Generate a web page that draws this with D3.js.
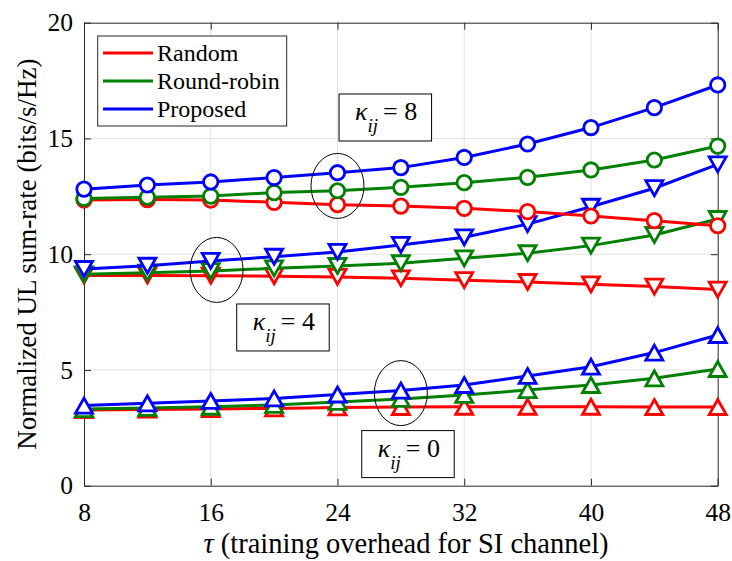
<!DOCTYPE html>
<html>
<head>
<meta charset="utf-8">
<script src="https://cdn.jsdelivr.net/npm/d3@7"></script>
<style>
  body { margin: 0; background: #fff; }
  svg { display: block; font-family: "Liberation Serif", "Times New Roman", serif; }
</style>
</head>
<body>
<div id="chart"></div>
<script>
// training overhead tau
const tau = [8, 12, 16, 20, 24, 28, 32, 36, 40, 44, 48];

// kappa_ij = 0
const random0 = [3.27, 3.29, 3.31, 3.34, 3.38, 3.40, 3.41, 3.41, 3.41, 3.40, 3.40];
const roundRobin0 = [3.31, 3.36, 3.41, 3.49, 3.62, 3.75, 3.92, 4.13, 4.35, 4.64, 5.04];
const proposed0 = [3.46, 3.56, 3.66, 3.77, 3.94, 4.11, 4.35, 4.74, 5.14, 5.75, 6.51];

// kappa_ij = 4
const random4 = [9.08, 9.08, 9.07, 9.05, 9.02, 8.96, 8.88, 8.80, 8.70, 8.60, 8.47];
const roundRobin4 = [9.13, 9.20, 9.27, 9.39, 9.49, 9.61, 9.82, 10.04, 10.37, 10.83, 11.52];
const proposed4 = [9.36, 9.50, 9.71, 9.89, 10.10, 10.40, 10.73, 11.30, 12.05, 12.85, 13.88];

// kappa_ij = 8
const random8 = [12.34, 12.36, 12.34, 12.24, 12.14, 12.08, 11.98, 11.84, 11.65, 11.45, 11.23];
const roundRobin8 = [12.41, 12.46, 12.51, 12.66, 12.74, 12.89, 13.09, 13.32, 13.64, 14.07, 14.67];
const proposed8 = [12.81, 12.99, 13.12, 13.31, 13.52, 13.74, 14.18, 14.76, 15.47, 16.33, 17.31];

const xTicks = [8, 16, 24, 32, 40, 48];
const yTicks = [0, 5, 10, 15, 20];

const schemes = ["Random", "Round-robin", "Proposed"];
const COLORS = { "Random": "#ff0000", "Round-robin": "#008000", "Proposed": "#0000ff" };

// draw order: kappa 0, 4, 8; inside each red, green, blue
const series = [
  { scheme: "Random", marker: "up", values: random0 },
  { scheme: "Round-robin", marker: "up", values: roundRobin0 },
  { scheme: "Proposed", marker: "up", values: proposed0 },
  { scheme: "Random", marker: "down", values: random4 },
  { scheme: "Round-robin", marker: "down", values: roundRobin4 },
  { scheme: "Proposed", marker: "down", values: proposed4 },
  { scheme: "Random", marker: "circle", values: random8 },
  { scheme: "Round-robin", marker: "circle", values: roundRobin8 },
  { scheme: "Proposed", marker: "circle", values: proposed8 },
];

// annotations: ellipse round the group + label box (top-left corner in data units)
const annotations = [
  { kappa: "8", at: [24, 12.95], box: [24.1, 16.92] },
  { kappa: "4", at: [16.37, 9.32], box: [17.64, 7.85] },
  { kappa: "0", at: [28.0, 4.0], box: [25.53, 2.38] },
];

const width = 732, height = 561;
const margin = { top: 22.7, right: 14.3, bottom: 75.3, left: 84 };
const AXIS = "#262626";
const FS = 24;

const svg = d3.select("#chart").append("svg")
  .attr("width", width)
  .attr("height", height);

const x = d3.scaleLinear().domain([8, 48]).range([margin.left, width - margin.right]);
const y = d3.scaleLinear().domain([0, 20]).range([height - margin.bottom, margin.top]);

// grid
svg.append("g")
  .selectAll("line")
  .data(xTicks.slice(1, -1))
  .join("line")
  .attr("x1", d => x(d)).attr("x2", d => x(d))
  .attr("y1", y(0)).attr("y2", y(20))
  .attr("stroke", "#e1e1e1").attr("stroke-width", 1);

svg.append("g")
  .selectAll("line")
  .data(yTicks.slice(1, -1))
  .join("line")
  .attr("x1", x(8)).attr("x2", x(48))
  .attr("y1", d => y(d)).attr("y2", d => y(d))
  .attr("stroke", "#e1e1e1").attr("stroke-width", 1);

// axes
function styleAxis(g) {
  g.attr("font-family", null);
  g.select(".domain").attr("stroke", AXIS).attr("stroke-width", 1);
  g.selectAll(".tick line").attr("stroke", AXIS);
  g.selectAll(".tick text").attr("fill", "#000").attr("font-size", 25.5);
}

svg.append("g")
  .attr("transform", `translate(0,${y(0)})`)
  .call(d3.axisBottom(x).tickValues(xTicks).tickSizeInner(-7).tickSizeOuter(0).tickPadding(17))
  .call(styleAxis);

svg.append("g")
  .attr("transform", `translate(0,${y(20)})`)
  .call(d3.axisTop(x).tickValues(xTicks).tickSizeInner(-7).tickSizeOuter(0).tickFormat(""))
  .call(styleAxis);

svg.append("g")
  .attr("transform", `translate(${x(8)},0)`)
  .call(d3.axisLeft(y).tickValues(yTicks).tickSizeInner(-7).tickSizeOuter(0).tickPadding(11))
  .call(styleAxis);

svg.append("g")
  .attr("transform", `translate(${x(48)},0)`)
  .call(d3.axisRight(y).tickValues(yTicks).tickSizeInner(-7).tickSizeOuter(0).tickFormat(""))
  .call(styleAxis);

// lines and markers
const line = d3.line().x((d, i) => x(tau[i])).y(d => y(d));

const tri = (dir) => {
  const w = 8.5, h = 7.5;
  return dir === "up"
    ? `M0,${-h}L${w},${h}L${-w},${h}Z`
    : `M0,${h}L${w},${-h}L${-w},${-h}Z`;
};

series.forEach(s => {
  const g = svg.append("g");
  const c = COLORS[s.scheme];
  g.append("path")
    .attr("d", line(s.values))
    .attr("fill", "none")
    .attr("stroke", c)
    .attr("stroke-width", 3);

  const pts = g.selectAll(".pt")
    .data(s.values)
    .join("g")
    .attr("transform", (d, i) => `translate(${x(tau[i])},${y(d)})`);

  if (s.marker === "circle") {
    pts.append("circle").attr("r", 7.2)
      .attr("fill", "#fff").attr("stroke", c).attr("stroke-width", 2.8);
  } else {
    pts.append("path").attr("d", tri(s.marker))
      .attr("fill", "#fff").attr("stroke", c).attr("stroke-width", 2.8)
      .attr("stroke-linejoin", "miter");
  }
});

// annotations
annotations.forEach(a => {
  svg.append("ellipse")
    .attr("cx", x(a.at[0])).attr("cy", y(a.at[1]))
    .attr("rx", 26.5).attr("ry", 32.5)
    .attr("fill", "none").attr("stroke", "#000").attr("stroke-width", 1);

  const bx = x(a.box[0]), by = y(a.box[1]);
  svg.append("rect")
    .attr("x", bx).attr("y", by)
    .attr("width", 92.5).attr("height", 47)
    .attr("fill", "#fff").attr("stroke", "#000").attr("stroke-width", 1);

  const t = svg.append("text")
    .attr("x", bx + 16).attr("y", by + 26)
    .attr("font-size", 26).attr("fill", "#000");
  t.append("tspan").attr("font-style", "italic").text("κ");
  t.append("tspan").attr("font-style", "italic").attr("font-size", 19)
    .attr("dy", 12).attr("dx", 0).text("ij");
  t.append("tspan").attr("dy", -12).attr("dx", 5).text("= " + a.kappa);
});

// legend
const legend = svg.append("g");
legend.append("rect")
  .attr("x", 97.7).attr("y", 36).attr("width", 189).attr("height", 90)
  .attr("fill", "#fff").attr("stroke", AXIS).attr("stroke-width", 1);

schemes.forEach((name, i) => {
  const cy = 53 + i * 28;
  legend.append("line")
    .attr("x1", 103).attr("x2", 153)
    .attr("y1", cy).attr("y2", cy)
    .attr("stroke", COLORS[name]).attr("stroke-width", 3);
  legend.append("text")
    .attr("x", 157).attr("y", cy + 8)
    .attr("font-size", FS).attr("fill", "#000")
    .text(name);
});

// axis labels
svg.append("text")
  .attr("x", 406).attr("y", 553)
  .attr("text-anchor", "middle")
  .attr("font-size", 28.5).attr("fill", "#000")
  .call(t => {
    t.append("tspan").attr("font-style", "italic").text("τ");
    t.append("tspan").text(" (training overhead for SI channel)");
  });

svg.append("text")
  .attr("transform", `translate(36,${(y(0) + y(20)) / 2}) rotate(-90)`)
  .attr("text-anchor", "middle")
  .attr("font-size", 27).attr("fill", "#000")
  .text("Normalized UL sum-rate (bits/s/Hz)");
</script>
</body>
</html>
